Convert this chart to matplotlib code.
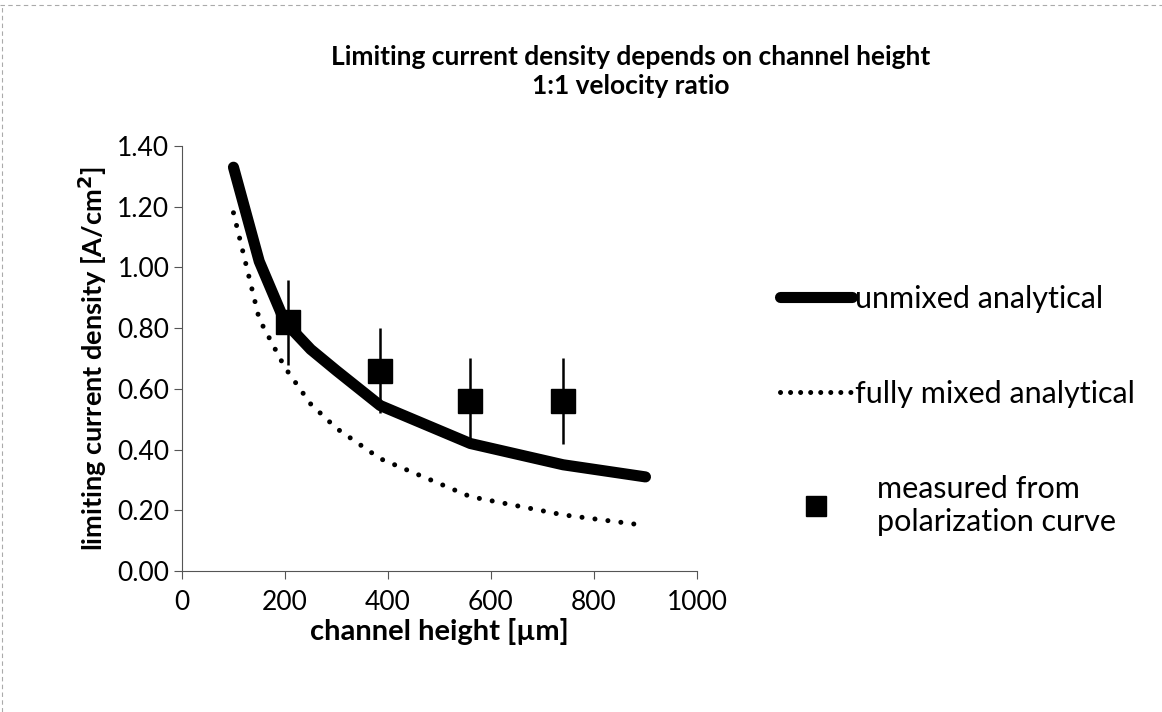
import matplotlib.pyplot as plt
from matplotlib.lines import Line2D
from matplotlib.transforms import Affine2D

plt.rcParams['font.family'] = ['Lato', 'DejaVu Sans']

# analytical curves, channel height in um
height_model = [100, 150, 200, 250, 300, 385, 560, 740, 900]
unmixed = [1.33, 1.02, 0.82, 0.73, 0.66, 0.545, 0.42, 0.35, 0.31]
fully_mixed = [1.18, 0.83, 0.67, 0.55, 0.47, 0.37, 0.245, 0.185, 0.15]

# measured from polarization curves
height_meas = [205, 385, 560, 740]
measured = [0.82, 0.66, 0.56, 0.56]
measured_err = [0.14, 0.14, 0.14, 0.14]

fig = plt.figure(figsize=(11.62, 7.12), dpi=100)
ax = fig.add_axes([0.1566, 0.198, 0.4432, 0.597])

ax.plot(height_model, unmixed, color='black', lw=8, solid_capstyle='round',
        solid_joinstyle='round', zorder=3)
ax.plot(height_model, fully_mixed, color='black', lw=3.6,
        linestyle=(0, (0.01, 2.6)), dash_capstyle='round', zorder=3)
ax.errorbar(height_meas, measured, yerr=measured_err, fmt='s', color='black',
            ms=17, elinewidth=1.8, capsize=0, zorder=4)

ax.set_xlim(0, 1000)
ax.set_ylim(0, 1.40)
ax.set_xticks(range(0, 1001, 200))
ax.set_yticks([i * 0.2 for i in range(8)])
ax.set_yticklabels([f"{i * 0.2:.2f}" for i in range(8)])
ax.tick_params(labelsize=19, length=6, width=0.8, color='#555555')
ax.tick_params(axis='y', pad=3)
ax.tick_params(axis='x', pad=8)
for side in ('top', 'right'):
    ax.spines[side].set_visible(False)
for side in ('left', 'bottom'):
    ax.spines[side].set_color('#555555')
    ax.spines[side].set_linewidth(0.8)

ax.set_xlabel("channel height [\u00b5m]", fontsize=21, fontweight='bold')
ax.xaxis.set_label_coords(0.5, -0.11)
ax.set_ylabel("limiting current density [A/cm$^\\mathbf{2}$]", fontsize=19.5,
              fontweight='bold')
ax.yaxis.set_label_coords(-0.141, 0.5)
fig.text(0.543, 0.9, "Limiting current density depends on channel height\n1:1 velocity ratio",
         ha='center', va='center', fontsize=19, fontweight='bold', linespacing=1.25)

handles = [
    Line2D([], [], color='black', lw=8, solid_capstyle='round'),
    Line2D([], [], color='black', lw=3.6, linestyle=(0, (0.01, 2.0)), dash_capstyle='round'),
    Line2D([], [], color='black', marker='s', ms=15, lw=0),
]
labels = ["unmixed analytical", "fully mixed analytical", "measured from\npolarization curve"]
leg = fig.legend(handles, labels, loc='center left', bbox_to_anchor=(0.648, 0.424),
                 frameon=False, fontsize=22, handlelength=2.35, handletextpad=0.1,
                 labelspacing=2.2)
# the marker entry's text sits a little further from its symbol
txt = leg.get_texts()[2]
txt.set_transform(txt.get_transform() + Affine2D().translate(22, 0))

# faint chart border along the top and left edges
fig.add_artist(Line2D([0.0, 1.0], [0.993, 0.993], transform=fig.transFigure,
                      color='#aaaaaa', lw=0.8, ls=(0, (4, 3))))
fig.add_artist(Line2D([0.002, 0.002], [0.0, 0.993], transform=fig.transFigure,
                      color='#aaaaaa', lw=0.8, ls=(0, (4, 3))))

fig.savefig("out.png", dpi=100)
